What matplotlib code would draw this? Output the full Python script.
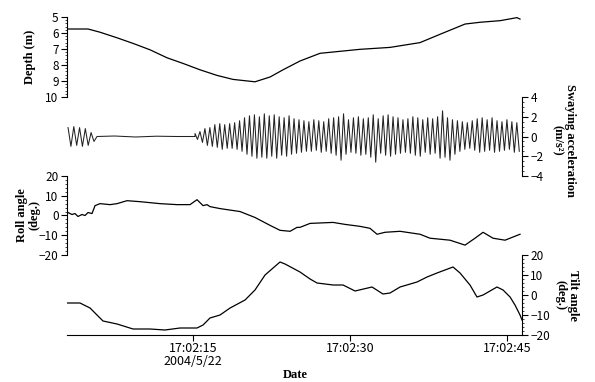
import numpy as np
import matplotlib
matplotlib.use("Agg")
import matplotlib.pyplot as plt
from matplotlib.ticker import MultipleLocator

# time in seconds after 17:02:00
depth_t = [3.06, 4.97, 6.11, 7.74, 9.27, 10.89, 12.52, 14.04, 15.67, 17.29, 18.82, 20.92,
           22.36, 23.60, 25.22, 27.13, 30.96, 33.82, 36.69, 38.60, 40.99, 42.42, 44.33, 45.95, 46.24]
depth_v = [5.75, 5.75, 5.95, 6.3, 6.65, 7.05, 7.55, 7.9, 8.3, 8.65, 8.9, 9.05,
           8.75, 8.3, 7.75, 7.27, 7.02, 6.9, 6.6, 6.08, 5.44, 5.33, 5.23, 5.04, 5.13]

# swaying acceleration: peak / trough of each cycle
sway1_start, sway1_period = 3.06, 0.55
sway1_peaks = [0.9, 1.0, 0.9, 0.8, 0.4]
sway1_troughs = [-1.0, -0.9, -1.0, -0.9, -0.5]
sway_flat_t = [5.83, 7.5, 9.5, 11.5, 13.5, 15.19]
sway_flat_v = [0.0, 0.05, -0.05, 0.03, 0.0, 0.0]
sway2_start, sway2_period = 15.19, 0.473
sway2_peaks = [0.3, 0.5, 0.8, 0.9, 1.2, 1.3, 1.2, 1.3, 1.4, 1.6, 1.9, 2.1, 2.2, 2.0, 2.3, 2.1,
               2.2, 2.0, 1.9, 2.1, 1.8, 1.7, 1.6, 1.5, 1.7, 1.6, 1.5, 1.8, 1.9, 2.0, 2.3, 1.7,
               1.9, 2.0, 1.8, 1.9, 2.2, 1.8, 2.1, 2.2, 2.0, 1.9, 1.7, 1.8, 2.0, 1.9, 1.7, 1.9,
               1.8, 2.0, 2.6, 1.9, 1.7, 1.6, 1.5, 1.4, 1.6, 1.8, 1.9, 1.7, 1.9, 1.6, 1.5, 1.7,
               1.5, 1.4]
sway2_troughs = [-0.3, -0.6, -0.9, -1.0, -1.1, -1.3, -1.2, -1.2, -1.3, -1.5, -1.8, -2.0, -2.2,
                 -2.1, -2.2, -2.0, -2.2, -1.9, -2.0, -1.8, -1.7, -1.6, -1.5, -1.5, -1.4, -1.6,
                 -1.5, -1.7, -1.9, -2.4, -1.8, -1.6, -1.7, -1.9, -1.8, -2.1, -2.6, -1.7, -1.9,
                 -2.0, -1.8, -1.7, -1.6, -1.7, -1.9, -2.0, -1.6, -1.8, -1.7, -2.2, -2.1, -2.4,
                 -1.8, -1.5, -1.3, -1.2, -1.4, -1.6, -1.5, -1.4, -1.6, -1.5, -1.4, -1.3, -1.6,
                 -1.5]

roll_t = [3.06, 3.44, 3.72, 4.01, 4.39, 4.68, 4.97, 5.35, 5.64, 6.11, 7.07, 7.74, 8.69, 9.94,
          11.85, 13.47, 14.71, 15.38, 15.67, 15.96, 16.34, 16.62, 17.58, 19.49, 20.92, 22.36,
          23.31, 24.27, 24.94, 25.22, 26.18, 28.38, 29.52, 30.96, 31.91, 32.58, 33.34, 34.78,
          36.69, 37.64, 39.55, 40.99, 41.94, 42.71, 43.66, 44.81, 45.76, 46.24]
roll_v = [1.5, 0.5, 1, -0.5, 0.5, 0, 1.5, 1, 5, 6, 5.5, 6, 7.5, 7, 6, 5.5, 5.5, 8, 6.5, 5, 5.5,
          4.5, 3.5, 2, -1, -5, -7.5, -8, -6, -6, -4, -3.5, -4.5, -5.5, -6.5, -9.5, -8.5, -8,
          -9.5, -11.5, -12.5, -15, -11.5, -8.5, -11.5, -12.5, -10.5, -9.5]

tilt_t = [2.96, 4.20, 5.16, 6.11, 6.40, 7.74, 9.27, 10.89, 12.32, 13.76, 15.38, 15.96, 16.62,
          17.58, 18.54, 19.97, 20.92, 21.88, 23.31, 23.79, 25.22, 26.18, 26.85, 28.38, 29.33,
          30.48, 32.10, 33.15, 33.82, 34.78, 36.40, 37.36, 38.31, 39.84, 40.51, 41.46, 42.13,
          42.71, 44.04, 44.62, 45.29, 45.76, 46.24, 46.43]
tilt_v = [-4, -4, -6.5, -11.5, -13, -14.5, -17, -17, -17.5, -16.5, -16.5, -15, -11.5, -10,
          -6.5, -2.5, 2.5, 10, 16.5, 15.5, 11.5, 8, 6, 5, 5, 2, 4, 0.5, 1, 4, 6.5, 9, 11, 14,
          11, 5, -1, 0, 4, 2.5, -1, -5, -10, -12.5]

x_ticks = [15, 30, 45]
x_ticklabels = ["17:02:15\n2004/5/22", "17:02:30", "17:02:45"]


def build_sway(start, period, peaks, troughs):
    vals = []
    for p, q in zip(peaks, troughs):
        vals += [p, q]
    t = start + np.arange(len(vals)) * period / 2
    return list(t), vals


t1, v1 = build_sway(sway1_start, sway1_period, sway1_peaks, sway1_troughs)
t2, v2 = build_sway(sway2_start, sway2_period, sway2_peaks, sway2_troughs)
sway_t = t1 + sway_flat_t + t2
sway_v = v1 + sway_flat_v + v2

plt.rcParams['font.family'] = ['Noto Sans CJK JP', 'DejaVu Sans']
W, H = 595, 382
fig = plt.figure(figsize=(W / 100, H / 100), dpi=100)

left, width = 67 / W, 455 / W
xlim = (2.96, 46.43)


def make_axes(top_px, bot_px):
    return fig.add_axes([left, 1 - bot_px / H, width, (bot_px - top_px) / H])


def style(ax, side):
    for s in ax.spines.values():
        s.set_visible(False)
    ax.spines[side].set_visible(True)
    ax.spines[side].set_linewidth(0.8)
    ax.set_xlim(*xlim)
    ax.set_xticks([])
    ax.patch.set_alpha(0)
    if side == 'right':
        ax.yaxis.tick_right()
    ax.tick_params(axis='y', labelsize=8.5, width=0.8, length=4, pad=2)
    ax.tick_params(axis='y', which='minor', length=1.5, width=0.5)


lw = 0.9
ax1 = make_axes(17, 97)
ax1.plot(depth_t, depth_v, color='black', lw=lw)
ax1.set_ylim(10, 5)
ax1.yaxis.set_major_locator(MultipleLocator(1))
ax1.yaxis.set_minor_locator(MultipleLocator(0.2))
style(ax1, 'left')

ax2 = make_axes(97, 176)
ax2.plot(sway_t, sway_v, color='#222222', lw=0.75)
ax2.set_ylim(-4, 4)
ax2.yaxis.set_major_locator(MultipleLocator(2))
ax2.yaxis.set_minor_locator(MultipleLocator(0.5))
style(ax2, 'right')

ax3 = make_axes(176, 255)
ax3.plot(roll_t, roll_v, color='black', lw=lw)
ax3.set_ylim(-20, 20)
ax3.yaxis.set_major_locator(MultipleLocator(10))
ax3.yaxis.set_minor_locator(MultipleLocator(2))
style(ax3, 'left')

ax4 = make_axes(255, 335)
ax4.plot(tilt_t, tilt_v, color='black', lw=lw)
ax4.set_ylim(-20, 20)
ax4.yaxis.set_major_locator(MultipleLocator(10))
ax4.yaxis.set_minor_locator(MultipleLocator(2))
style(ax4, 'right')
ax4.spines['bottom'].set_visible(True)
ax4.spines['bottom'].set_linewidth(0.8)
ax4.set_xticks(x_ticks)
ax4.set_xticklabels(x_ticklabels, linespacing=1.0)
ax4.tick_params(axis='x', labelsize=9, width=0.8, length=4, pad=1)

lab = dict(family='Liberation Serif', fontweight='bold', fontsize=9, ha='center', va='center',
           linespacing=1.1)
fig.text(30 / W, 1 - 57 / H, "Depth (m)", rotation=90, **lab)
fig.text(28 / W, 1 - 215 / H, "Roll angle\n(deg.)", rotation=90, **lab)
fig.text(564 / W, 1 - 140 / H, "Swaying acceleration\n(m/s²)", rotation=270, **lab)
fig.text(567 / W, 1 - 295 / H, "Tilt angle\n(deg.)", rotation=270, **lab)
fig.text(295 / W, 1 - 375 / H, "Date", **lab)

fig.savefig("out.png", dpi=100)
